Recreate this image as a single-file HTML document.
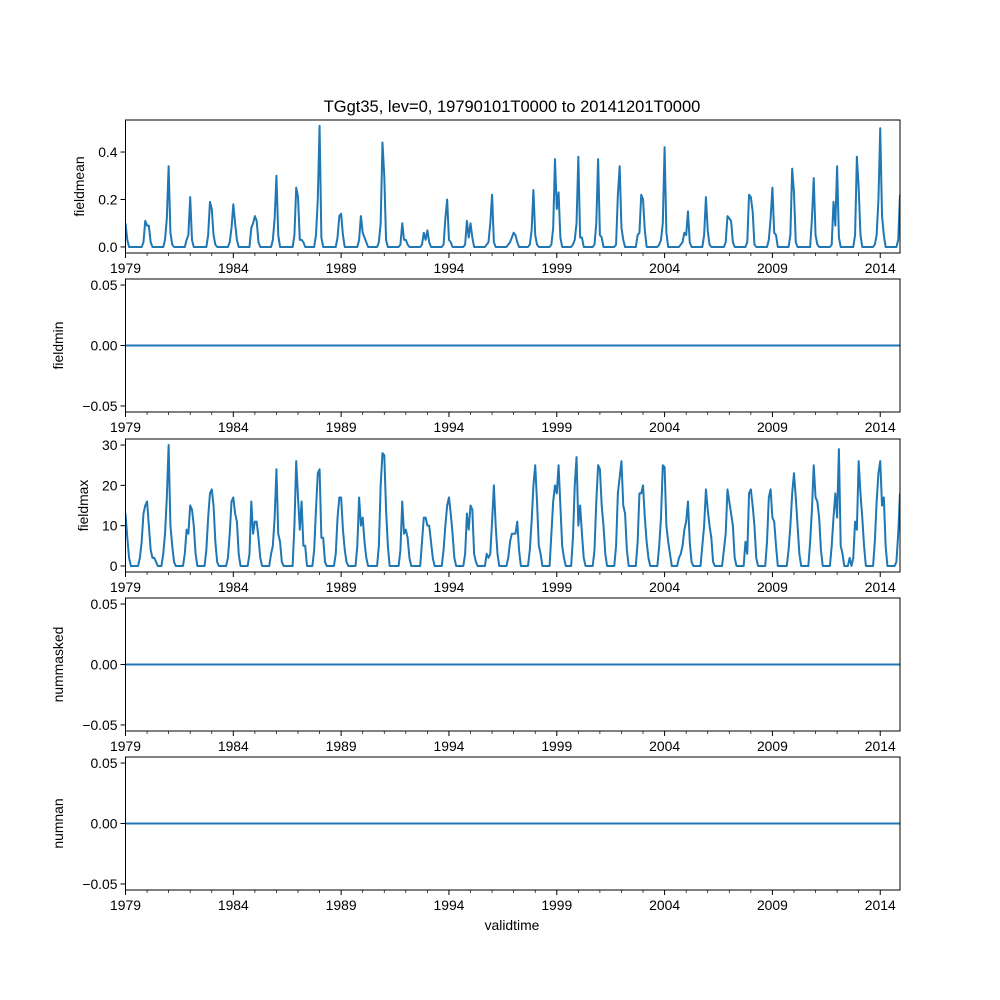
<!DOCTYPE html>
<html><head><meta charset="utf-8"><style>
body{margin:0;background:#fff;}
svg{display:block;font-family:"Liberation Sans","DejaVu Sans",sans-serif;}
</style></head><body>
<svg id="fig" width="1000" height="1000" viewBox="0 0 1000 1000" xmlns="http://www.w3.org/2000/svg">
<rect width="1000" height="1000" fill="#fff"/>
<text x="512" y="112" text-anchor="middle" font-size="16.5">TGgt35, lev=0, 19790101T0000 to 20141201T0000</text>
<text x="512" y="930" text-anchor="middle" font-size="13.9">validtime</text>
</svg>
<script>
const startYear = 1979;
const nMonths = 432;
const majorTickYears = [1979,1984,1989,1994,1999,2004,2009,2014];
const fieldmeanByYear = [
[.10,.03,0,0,0,0,0,0,0,0,.02,.11],
[.09,.09,.02,0,0,0,0,0,0,0,.03,.12],
[.34,.06,.01,0,0,0,0,0,0,0,.03,.05],
[.21,.03,0,0,0,0,0,0,0,0,.05,.19],
[.16,.05,.01,0,0,0,0,0,0,0,.02,.08],
[.18,.10,.03,0,0,0,0,0,0,0,.08,.10],
[.13,.11,.02,0,0,0,0,0,0,0,.03,.12],
[.30,.05,0,0,0,0,0,0,0,0,.05,.25],
[.21,.03,.03,.02,0,0,0,0,0,0,.05,.20],
[.51,.04,0,0,0,0,0,0,0,0,.04,.13],
[.14,.05,0,0,0,0,0,0,0,0,.03,.13],
[.06,.04,.02,0,0,0,0,0,0,.02,.10,.44],
[.30,.03,0,0,0,0,0,0,0,.01,.10,.03],
[.03,.01,0,0,0,0,0,0,0,.01,.06,.03],
[.07,.02,0,0,0,0,0,0,0,.01,.12,.20],
[.03,.02,0,0,0,0,0,0,0,.01,.11,.04],
[.10,.04,0,0,0,0,0,0,0,.01,.02,.10],
[.22,.02,0,0,0,0,0,0,0,.01,.02,.04],
[.06,.05,.02,0,0,0,0,0,0,.01,.07,.24],
[.05,.01,0,0,0,0,0,0,0,.01,.08,.37],
[.16,.23,.04,0,0,0,0,0,0,.01,.03,.10],
[.38,.04,.04,0,0,0,0,0,0,.01,.10,.37],
[.05,.04,0,0,0,0,0,0,0,.01,.22,.34],
[.08,.03,0,0,0,0,0,0,0,.05,.06,.22],
[.20,.07,0,0,0,0,0,0,0,.01,.03,.10],
[.42,.06,0,0,0,0,0,0,0,.01,.02,.06],
[.05,.15,.02,0,0,0,0,0,0,0,.05,.21],
[.07,.01,0,0,0,0,0,0,0,0,.02,.13],
[.12,.11,.02,0,0,0,0,0,0,0,.02,.22],
[.21,.15,.01,0,0,0,0,0,0,0,.03,.12],
[.25,.06,.05,0,0,0,0,0,0,0,.05,.33],
[.23,.02,0,0,0,0,0,0,0,0,.12,.29],
[.05,.01,0,0,0,0,0,0,0,.01,.19,.09],
[.34,.04,0,0,0,0,0,0,0,0,.05,.38],
[.25,.05,0,0,0,0,0,0,0,.01,.05,.20],
[.50,.13,.05,0,0,0,0,0,0,0,.03,.22]
];
const fieldmaxByYear = [
[13,7,2,0,0,0,0,0,2,6,13,15],
[16,10,4,2,2,1,0,0,0,3,8,17],
[30,10,5,1,0,0,0,0,0,3,9,8],
[15,14,10,3,0,0,0,0,0,4,12,18],
[19,15,6,1,0,0,0,0,0,2,8,16],
[17,13,11,3,0,0,0,0,0,3,16,8],
[11,11,7,2,0,0,0,0,0,3,5,12],
[24,8,6,1,0,0,0,0,0,0,10,26],
[17,9,16,5,5,0,0,0,0,4,14,23],
[24,7,7,1,0,0,0,0,0,3,12,17],
[17,9,4,1,0,0,0,0,0,5,17,10],
[12,6,2,0,0,0,0,0,0,5,20,28],
[27.5,14,5,0,0,0,0,0,0,4,16,8],
[9,7,2,0,0,0,0,0,0,6,12,12],
[10,10,6,2,0,0,0,0,0,4,10,15],
[17,13,8,2,0,0,0,0,0,3,13,9],
[15,14,3,1,0,0,0,0,0,3,2,3],
[11,20,10,3,0,0,0,0,0,2,6,8],
[8,8,11,4,0,0,0,0,0,4,11,20],
[25,16,5,3,0,0,0,0,0,8,16,20],
[18,25,15,5,2,0,0,0,0,7,20,27],
[10,15,8,2,0,0,0,0,0,4,16,25],
[24,15,10,3,0,0,0,0,0,5,18,22],
[26,15,13,4,0,0,0,0,0,6,18,18],
[20,12,6,2,0,0,0,0,0,5,12,25],
[24.5,10,6,3,0,0,0,0,2,3,5,9],
[11,16,6,1,0,0,0,0,0,5,10,19],
[14,10,7,1,0,0,0,0,0,4,8,19],
[16,13,10,2,0,0,0,0,0,6,3,18],
[19,15,10,2,0,0,0,0,0,6,17,19],
[12,11,5,0,0,0,0,0,0,4,10,18],
[23,17,10,3,0,0,0,0,0,6,14,25],
[17,16,12,4,0,0,0,0,0,5,12,18],
[12,29,5,3,0,0,0,2,0,2,11,9],
[26,18,12,5,0,0,0,0,0,6,16,23],
[26,15,17,5,0,0,0,0,0,1,8,18]
];
const fieldminValue = 0;
const nummaskedValue = 0;
const numnanValue = 0;
const meanTicks = [0.0,0.2,0.4];
const meanTickLabels = ["0.0","0.2","0.4"];
const maxTicks = [0,10,20,30];
const maxTickLabels = ["0","10","20","30"];
const zeroTicks = [-0.05,0,0.05];
const zeroTickLabels = ["−0.05","0.00","0.05"];

const NS="http://www.w3.org/2000/svg";
const svg=document.getElementById('fig');
const L=125.5,R=900;
function mk(tag,attrs,parent){const e=document.createElementNS(NS,tag);for(const k in attrs)e.setAttribute(k,attrs[k]);(parent||svg).appendChild(e);return e;}
function xOf(i){return L+(R-L)*i/(nMonths-1);}
function xYear(y){return xOf((y-startYear)*12);}

function panel(key,top,ymin,ymax,values,ticks,tickLabels,ylabel,ylabelX){
  const bot=top+133;
  const yOf=v=>bot-(v-ymin)/(ymax-ymin)*(bot-top);
  const g=mk('g',{});
  
  
  // line
  let d='';
  values.forEach((v,i)=>{d+=(i?'L':'M')+xOf(i).toFixed(2)+','+yOf(v).toFixed(2);});
  const cp=mk('clipPath',{id:'c'+key},g);mk('rect',{x:L,y:top,width:R-L,height:bot-top},cp);
  const p=mk('path',{d:d,fill:'none',stroke:'#1f77b4','stroke-width':2,'stroke-linejoin':'round','clip-path':'url(#c'+key+')'},g);
  
  
  // frame
  const fr=mk('rect',{x:L,y:top,width:R-L,height:bot-top,fill:'none',stroke:'#000','stroke-width':1},g);
  
  
  // y ticks
  ticks.forEach((t,k)=>{
    const y=yOf(t);
    mk('line',{x1:L-5,x2:L,y1:y,y2:y,stroke:'#000','stroke-width':1},g);
    const tx=mk('text',{x:L-8,y:y+5,'text-anchor':'end','font-size':13.9},g);
    tx.textContent=tickLabels[k];
    
    
  });
  // x minor ticks
  for(let yr=startYear;yr<=2014;yr++){
    const x=xYear(yr);
    const major=majorTickYears.includes(yr);
    mk('line',{x1:x,x2:x,y1:bot,y2:bot+(major?5:3),stroke:'#000','stroke-width':major?1:0.7},g);
  }
  majorTickYears.forEach(yr=>{
    const tx=mk('text',{x:xYear(yr),y:bot+20,'text-anchor':'middle','font-size':13.9},g);
    tx.textContent=String(yr);
    
    
  });
  const cy=(top+bot)/2;
  const yl=mk('text',{x:ylabelX,y:cy,'text-anchor':'middle','font-size':13.9,transform:'rotate(-90 '+ylabelX+' '+cy+')'},g);
  yl.textContent=ylabel;
  
  
}
const meanVals=[].concat(...fieldmeanByYear);
const maxVals=[].concat(...fieldmaxByYear);
const minVals=meanVals.map(()=>fieldminValue);
const maskVals=meanVals.map(()=>nummaskedValue);
const nanVals=meanVals.map(()=>numnanValue);
panel('fieldmean',120,-0.0255,0.535,meanVals,meanTicks,meanTickLabels,'fieldmean',84);
panel('fieldmin',279,-0.055,0.055,minVals,zeroTicks,zeroTickLabels,'fieldmin',63);
panel('fieldmax',439,-1.5,31.5,maxVals,maxTicks,maxTickLabels,'fieldmax',88);
panel('nummasked',598,-0.055,0.055,maskVals,zeroTicks,zeroTickLabels,'nummasked',63);
panel('numnan',757,-0.055,0.055,nanVals,zeroTicks,zeroTickLabels,'numnan',63);
</script>
</body></html>
